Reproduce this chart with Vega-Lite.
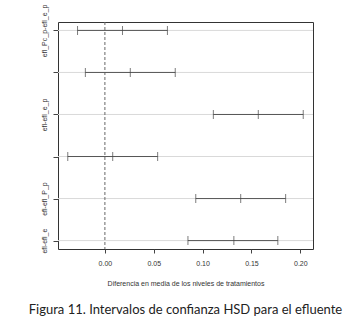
{
  "$schema": "https://vega.github.io/schema/vega-lite/v6.json",
  "width": 255,
  "height": 227,
  "autosize": {"type": "none"},
  "padding": {"left": 58, "top": 22, "right": 51, "bottom": 68},
  "background": "white",
  "config": {
    "view": {"stroke": "#333", "strokeWidth": 1},
    "font": "Liberation Sans",
    "axis": {"grid": false, "domain": false, "tickColor": "#444", "labelColor": "#333", "titleColor": "#333", "labelFontSize": 7, "titleFontSize": 7, "titleFontWeight": "normal"}
  },
  "title": {
    "text": "Figura 11. Intervalos de confianza HSD para el efluente",
    "orient": "bottom",
    "anchor": "middle",
    "font": "Lato",
    "fontSize": 13,
    "fontWeight": "normal",
    "color": "#222",
    "offset": 18
  },
  "data": {
    "values": [
      {"comp": "efl_Pc_p-efl_e_p", "lwr": -0.028, "diff": 0.018, "upr": 0.064},
      {"comp": "efl_Pc_p-efl_e", "lwr": -0.020, "diff": 0.026, "upr": 0.072},
      {"comp": "efl-efl_e_p", "lwr": 0.111, "diff": 0.157, "upr": 0.203},
      {"comp": "efl_Pc_p-efl", "lwr": -0.038, "diff": 0.008, "upr": 0.054},
      {"comp": "efl-efl_P_p", "lwr": 0.093, "diff": 0.139, "upr": 0.185},
      {"comp": "efl-efl_e", "lwr": 0.085, "diff": 0.132, "upr": 0.177}
    ]
  },
  "layer": [
    {
      "mark": {"type": "rule", "color": "#d9d9d9", "strokeWidth": 1},
      "encoding": {
        "y": {"field": "comp", "type": "nominal", "sort": null,
          "scale": {"type": "point", "padding": 0.2},
          "axis": {"title": null, "labelAngle": -90, "labelAlign": "center", "labelBaseline": "bottom", "labelPadding": 6, "tickSize": 5,
            "labelExpr": "(datum.value == 'efl_Pc_p-efl_e' || datum.value == 'efl_Pc_p-efl') ? '' : datum.label"}}
      }
    },
    {
      "data": {"values": [{"z": 0}]},
      "mark": {"type": "rule", "color": "#666", "strokeDash": [3, 2], "strokeWidth": 1},
      "encoding": {"x": {"field": "z", "type": "quantitative"}}
    },
    {
      "mark": {"type": "rule", "color": "#555", "strokeWidth": 1},
      "encoding": {
        "y": {"field": "comp", "type": "nominal", "sort": null},
        "x": {"field": "lwr", "type": "quantitative",
          "scale": {"domain": [-0.048, 0.213], "nice": false, "zero": false},
          "axis": {"title": "Diferencia en media de los niveles de tratamientos", "values": [0, 0.05, 0.1, 0.15, 0.2], "format": ".2f", "tickSize": 4, "labelPadding": 6, "titlePadding": 13}},
        "x2": {"field": "upr"}
      }
    },
    {
      "mark": {"type": "tick", "color": "#444", "size": 9, "thickness": 1},
      "encoding": {"y": {"field": "comp", "type": "nominal", "sort": null}, "x": {"field": "lwr", "type": "quantitative"}}
    },
    {
      "mark": {"type": "tick", "color": "#444", "size": 9, "thickness": 1},
      "encoding": {"y": {"field": "comp", "type": "nominal", "sort": null}, "x": {"field": "diff", "type": "quantitative"}}
    },
    {
      "mark": {"type": "tick", "color": "#444", "size": 9, "thickness": 1},
      "encoding": {"y": {"field": "comp", "type": "nominal", "sort": null}, "x": {"field": "upr", "type": "quantitative"}}
    }
  ]
}
